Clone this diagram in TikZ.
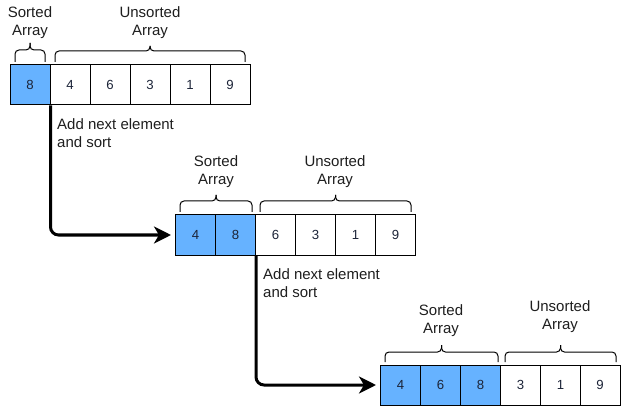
\documentclass[tikz,border=0pt]{standalone}
\usepackage{fontspec}
\setmainfont{Liberation Sans}
\usetikzlibrary{arrows.meta}
\definecolor{sortblue}{RGB}{102,178,255}
\definecolor{digit}{RGB}{28,36,56}
\definecolor{txt}{RGB}{30,30,30}
\newcommand\mybrace[5]{%
  \draw[brace] (#1,#3) -- (#1,#4) -- ({(#1+#2)/2},#4) -- ({(#1+#2)/2},#5);
  \draw[brace] (#2,#3) -- (#2,#4) -- ({(#1+#2)/2},#4) -- ({(#1+#2)/2},#5);}
\begin{document}
\begin{tikzpicture}[x=1pt,y=-1pt,
  cell/.style={draw=black,line width=1pt,minimum size=40pt,inner sep=0pt,
    text=digit,font=\fontsize{13.2}{15}\selectfont},
  sortedcell/.style={cell,fill=sortblue},
  lbl/.style={font=\fontsize{15}{18}\selectfont,align=center,inner sep=0pt,text=txt},
  note/.style={font=\fontsize{15}{17.5}\selectfont,align=left,inner sep=0pt,anchor=north west,text=txt},
  brace/.style={line width=1pt,rounded corners=4pt},
  flow/.style={line width=3pt,rounded corners=8pt,
    -{Stealth[length=17pt,width=17pt,inset=5pt]},shorten >=4pt}
]
\useasboundingbox (0,0) rectangle (621,406);

% row 1
\node[sortedcell] (a1) at (30,85) {8};
\node[cell] (a2) at (70,85) {4};
\node[cell] (a3) at (110,85) {6};
\node[cell] (a4) at (150,85) {3};
\node[cell] (a5) at (190,85) {1};
\node[cell] (a6) at (230,85) {9};

% row 2
\node[sortedcell] (b1) at (195.5,235) {4};
\node[sortedcell] (b2) at (235.5,235) {8};
\node[cell] (b3) at (275.5,235) {6};
\node[cell] (b4) at (315.5,235) {3};
\node[cell] (b5) at (355.5,235) {1};
\node[cell] (b6) at (395.5,235) {9};

% row 3
\node[sortedcell] (c1) at (400.5,385) {4};
\node[sortedcell] (c2) at (440.5,385) {6};
\node[sortedcell] (c3) at (480.5,385) {8};
\node[cell] (c4) at (520.5,385) {3};
\node[cell] (c5) at (560.5,385) {1};
\node[cell] (c6) at (600,385) {9};

% braces
\mybrace{15}{45}{62}{50}{43}
\mybrace{55}{245}{62}{51}{46}
\mybrace{180}{252}{212}{201}{195}
\mybrace{260}{411}{212}{201}{195}
\mybrace{385}{498}{362}{352}{345}
\mybrace{505}{616}{362}{352}{345}

% brace labels
\node[lbl] (s1) at (30,23) {Sorted\\Array};
\node[lbl] (u1) at (150,23) {Unsorted\\Array};
\node[lbl] (s2) at (216,172) {Sorted\\Array};
\node[lbl] (u2) at (335,172) {Unsorted\\Array};
\node[lbl] (s3) at (441,321) {Sorted\\Array};
\node[lbl] (u3) at (560,317) {Unsorted\\Array};

% notes
\node[note] (n1) at (57,118.5) {Add next element\\and sort};
\node[note] (n2) at (263,268.5) {Add next element\\and sort};

% connectors
\draw[flow] (a1.south east) |- (b1.west);
\draw[flow] (b2.south east) |- (c1.west);
\end{tikzpicture}
\end{document}
